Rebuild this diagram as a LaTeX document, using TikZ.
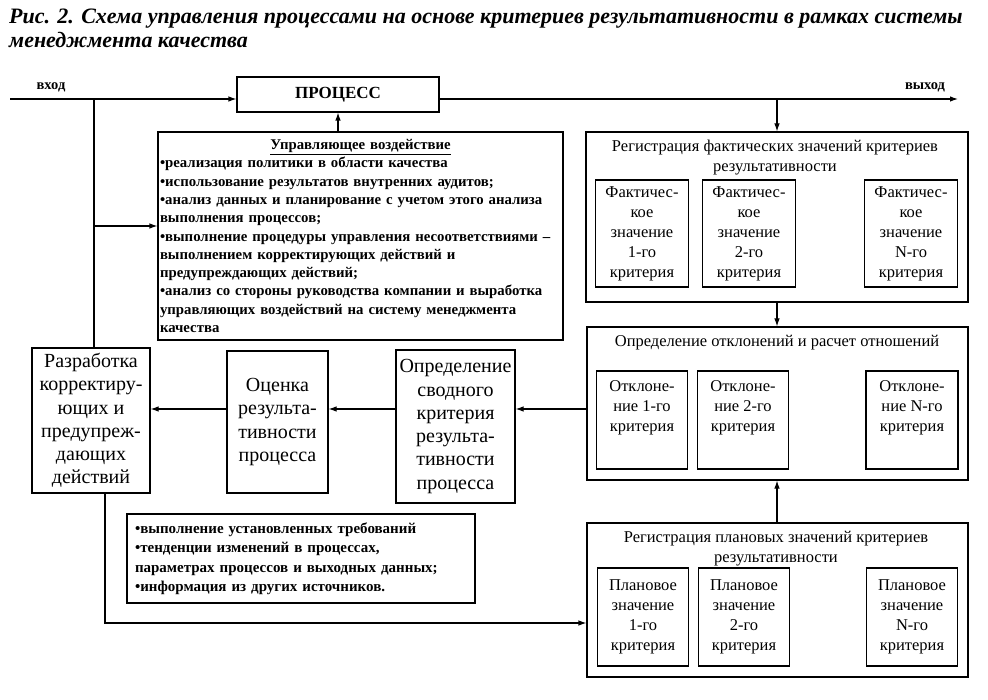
\documentclass[tikz,border=0pt]{standalone}
\usepackage{fontspec}
\setmainfont{Liberation Serif}
\usetikzlibrary{arrows.meta,positioning,calc}

\tikzset{
  box/.style={draw, line width=1.1pt, rectangle, inner sep=2pt, align=center, font=\fontsize{16.5}{20}\selectfont},
  bigbox/.style={box, font=\fontsize{20}{23.3}\selectfont},
  listbox/.style={draw, line width=1.1pt, rectangle, align=left, inner ysep=2pt, font=\bfseries\fontsize{14.8}{18.3}\selectfont},
  arr/.style={-{Latex[length=8pt,width=5.5pt]}, line width=1.1pt},
  ln/.style={line width=1.1pt}
}

\begin{document}
\begin{tikzpicture}[x=1pt, y=-1pt]
\useasboundingbox (0,0) rectangle (988,700);

% заголовок
\node[anchor=north west, align=left, inner sep=0pt, font=\bfseries\itshape\fontsize{22}{24}\selectfont] (title) at (9,9)
  {Рис. 2. Схема управления процессами на основе критериев результативности в рамках системы\\менеджмента качества};

% процесс, вход и выход
\node[draw, line width=1.1pt, minimum width=202pt, minimum height=35pt, font=\bfseries\fontsize{17}{20}\selectfont] (proc) at (338,94.5) {ПРОЦЕСС};
\node[font=\bfseries\fontsize{14.5}{16}\selectfont] (inlbl) at (51,87) {вход};
\node[font=\bfseries\fontsize{14.5}{16}\selectfont] (outlbl) at (925,87) {выход};
\coordinate (in) at (10,99);
\coordinate (out) at (958,99);
\coordinate (split) at (94,99);
\coordinate (tap) at (777,99);

% управляющее воздействие
\node[listbox, text width=401pt, inner xsep=2pt, minimum height=208pt] (ctrl) at (360.5,236)
  {\makebox[\linewidth]{\underline{Управляющее воздействие}}\\
   •реализация политики в области качества\\
   •использование результатов внутренних аудитов;\\
   •анализ данных и планирование с учетом этого анализа\\
   выполнения процессов;\\
   •выполнение процедуры управления несоответствиями –\\
   выполнением корректирующих действий и\\
   предупреждающих действий;\\
   •анализ со стороны руководства компании и выработка\\
   управляющих воздействий на систему менеджмента\\
   качества};

% фактические значения
\node[draw, line width=1.1pt, minimum width=382pt, minimum height=170pt] (fact) at (777,217) {};
\node[box, draw=none] (facttitle) at (775,158) {Регистрация фактических значений критериев\\результативности};
\node[box, minimum width=93pt, minimum height=107pt] (fact1) at (642,233.5) {Фактичес-\\кое\\значение\\1-го\\критерия};
\node[box, minimum width=93pt, minimum height=107pt] (fact2) at (749,233.5) {Фактичес-\\кое\\значение\\2-го\\критерия};
\node[box, minimum width=93pt, minimum height=107pt] (factn) at (911,233.5) {Фактичес-\\кое\\значение\\N-го\\критерия};

% отклонения
\node[draw, line width=1.1pt, minimum width=381pt, minimum height=153pt] (dev) at (777.5,403.5) {};
\node[box, draw=none] (devtitle) at (777,343) {Определение отклонений и расчет отношений};
\node[box, minimum width=91pt, minimum height=98pt] (dev1) at (642,420) {\parbox[c][78pt][t]{86pt}{\centering Отклоне-\\ние 1-го\\критерия}};
\node[box, minimum width=91pt, minimum height=98pt] (dev2) at (743,420) {\parbox[c][78pt][t]{86pt}{\centering Отклоне-\\ние 2-го\\критерия}};
\node[box, minimum width=92pt, minimum height=98pt] (devn) at (912,420) {\parbox[c][78pt][t]{86pt}{\centering Отклоне-\\ние N-го\\критерия}};

% плановые значения
\node[draw, line width=1.1pt, minimum width=381pt, minimum height=154pt] (plan) at (777.5,600) {};
\node[box, draw=none] (plantitle) at (776,549) {Регистрация плановых значений критериев\\результативности};
\node[box, minimum width=91pt, minimum height=98pt] (plan1) at (643,617) {Плановое\\значение\\1-го\\критерия};
\node[box, minimum width=91pt, minimum height=98pt] (plan2) at (744,617) {Плановое\\значение\\2-го\\критерия};
\node[box, minimum width=91pt, minimum height=98pt] (plann) at (912,617) {Плановое\\значение\\N-го\\критерия};

% левый ряд
\node[bigbox, minimum width=118pt, minimum height=145pt] (razr) at (91,420.5) {Разработка\\корректиру-\\ющих и\\предупреж-\\дающих\\действий};
\node[bigbox, minimum width=101pt, minimum height=142pt] (ocen) at (277.5,422) {Оценка\\результа-\\тивности\\процесса};
\node[bigbox, minimum width=119pt, minimum height=153pt] (summ) at (455.5,426.5) {Определение\\сводного\\критерия\\результа-\\тивности\\процесса};

% источники данных
\node[listbox, text width=332pt, inner xsep=8pt, minimum height=89pt, font=\bfseries\fontsize{15}{19.5}\selectfont] (src) at (301,558.5)
  {•выполнение установленных требований\\
   •тенденции изменений в процессах,\\
   параметрах процессов и выходных данных;\\
   •информация из других источников.};

% связи
\coordinate (ctrlin) at (94,226);
\coordinate (row) at (0,409);
\coordinate (low) at (105,623);
\draw[arr] (in) -- (in -| proc.west);
\draw[arr] (in -| proc.east) -- (out);
\draw[ln] (split) -- (split |- razr.north);
\draw[arr] (ctrlin) -- (ctrlin -| ctrl.west);
\draw[arr] (proc.south |- ctrl.north) -- (proc.south);
\draw[arr] (tap) -- (fact.north);
\draw[arr] (fact.south) -- (fact.south |- dev.north);
\draw[arr] (plan.north -| fact.south) -- (fact.south |- dev.south);
\draw[arr] (row -| dev.west) -- (row -| summ.east);
\draw[arr] (row -| summ.west) -- (row -| ocen.east);
\draw[arr] (row -| ocen.west) -- (row -| razr.east);
\draw[arr] (low |- razr.south) -- (low) -- (low -| plan.west);
\end{tikzpicture}
\end{document}
